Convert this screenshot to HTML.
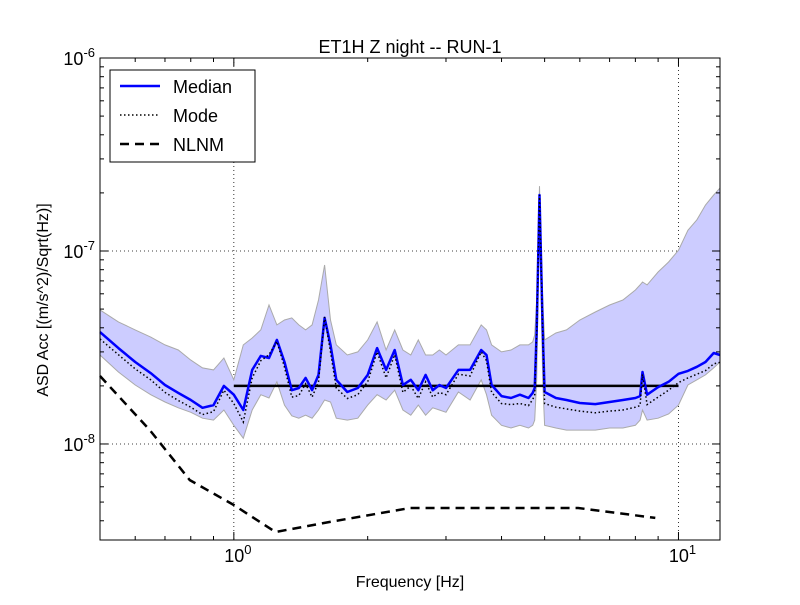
<!DOCTYPE html>
<html><head><meta charset="utf-8"><style>
body{margin:0;background:#fff;}
svg{font-family:"Liberation Sans","DejaVu Sans",sans-serif;}
</style></head><body>
<svg id="chart" width="800" height="600" xmlns="http://www.w3.org/2000/svg"></svg>
<script>
const freqs=[0.5,0.55,0.6,0.65,0.7,0.75,0.8,0.85,0.9,0.95,
1.0,1.05,1.1,1.15,1.2,1.25,1.3,1.35,1.4,1.45,1.5,1.55,1.6,1.65,1.7,
1.8,1.9,2.0,2.1,2.2,2.3,2.4,2.5,2.6,2.7,2.8,2.9,3.0,
3.2,3.4,3.6,3.7,3.8,4.0,4.2,4.4,4.6,4.7,4.75,4.8,4.87,4.95,5.0,
5.3,5.6,6.0,6.5,7.0,7.5,8.0,8.2,8.3,8.5,9.0,9.5,10,10.5,11,11.5,12,12.4];
// values in units of 1e-8 m/s^2/sqrt(Hz)
const median=[3.80,3.14,2.66,2.33,2.02,1.84,1.69,1.54,1.59,2.0,
1.80,1.50,2.42,2.86,2.79,3.46,2.66,1.90,1.95,2.20,1.90,2.28,4.50,3.26,2.15,
1.86,1.95,2.28,3.14,2.42,3.07,2.02,2.15,1.90,2.28,1.90,2.02,1.95,
2.42,2.42,3.07,2.89,2.02,1.77,1.73,1.80,1.73,1.84,1.95,3.90,19.5,3.90,1.86,
1.73,1.69,1.63,1.61,1.65,1.69,1.73,1.77,2.36,1.80,1.97,2.10,2.31,2.39,2.51,2.66,2.96,2.89];
const mode=[3.5,2.9,2.45,2.15,1.85,1.68,1.55,1.42,1.47,1.9,
1.62,1.30,2.2,2.7,2.9,3.4,2.5,1.75,1.78,2.05,1.75,2.1,4.55,3.0,1.95,
1.72,1.8,2.1,3.0,2.2,2.9,1.85,2.0,1.72,2.1,1.75,1.85,1.8,
2.3,2.25,3.0,2.7,1.85,1.62,1.6,1.62,1.58,1.7,1.8,3.8,19.5,3.8,1.62,
1.55,1.52,1.48,1.45,1.48,1.5,1.55,1.58,2.3,1.6,1.75,1.9,2.08,2.2,2.3,2.4,2.6,2.65];
const upper=[4.95,4.29,3.90,3.58,3.26,3.07,2.72,2.48,2.42,2.79,
2.15,3.26,3.54,3.90,5.25,4.14,4.39,4.50,4.14,3.90,4.14,5.57,8.46,4.39,3.26,
2.89,3.0,3.46,4.29,3.07,3.90,3.07,2.89,3.46,2.89,2.89,3.07,2.89,
3.26,3.26,4.14,3.90,3.26,3.0,3.07,3.26,3.26,3.38,3.67,5.57,21.7,5.57,3.46,
3.76,3.90,4.39,4.83,5.25,5.57,6.28,6.67,6.91,6.67,7.78,8.77,10.1,12.8,14.5,17.3,19.5,21.2];
const lower=[2.89,2.36,2.02,1.80,1.65,1.54,1.46,1.36,1.33,1.50,
1.25,1.07,1.50,1.80,1.73,2.10,1.59,1.40,1.36,1.41,1.36,1.50,1.69,1.65,1.36,
1.33,1.36,1.59,1.80,1.69,1.90,1.50,1.41,1.59,1.41,1.54,1.50,1.46,
1.86,1.69,2.15,1.80,1.41,1.25,1.21,1.25,1.21,1.25,1.33,2.15,18.4,2.15,1.25,
1.21,1.18,1.18,1.18,1.21,1.21,1.25,1.33,1.50,1.33,1.36,1.43,1.59,2.02,2.15,2.28,2.48,2.66];
const nlnmFreqs=[0.5,0.647,0.796,1.0,1.24,1.64,2.49,5.95,8.87];
const nlnmVals=[2.25,1.18,0.65,0.483,0.35,0.394,0.466,0.466,0.414];
const refFreqs=[1.0,10.0];
const refVals=[2.0,2.0];
const xTicks=[1,10];
const yTicks=[1,10,100];
const yTickLabels=["-8","-7","-6"];

const L=100,R=720,T=58,B=540;
const xmin=0.5,xmax=12.4,ymin=0.318,ymax=100;
const X=f=>L+(R-L)*(Math.log10(f)-Math.log10(xmin))/(Math.log10(xmax)-Math.log10(xmin));
const Y=v=>B-(B-T)*(Math.log10(v)-Math.log10(ymin))/(Math.log10(ymax)-Math.log10(ymin));
const NS="http://www.w3.org/2000/svg";
const svg=document.getElementById('chart');
function mk(tag,attrs,parent){const e=document.createElementNS(NS,tag);for(const k in attrs)e.setAttribute(k,attrs[k]);(parent||svg).appendChild(e);return e;}
function pts(fs,vs){return fs.map((f,i)=>X(f).toFixed(1)+','+Y(vs[i]).toFixed(1)).join(' ');}

xTicks.forEach(t=>{const g=mk('line',{x1:X(t),x2:X(t),y1:T,y2:B,stroke:'#000','stroke-width':0.8,'stroke-dasharray':'1,3'});

});
yTicks.forEach(t=>{const g=mk('line',{x1:L,x2:R,y1:Y(t),y2:Y(t),stroke:'#000','stroke-width':0.8,'stroke-dasharray':'1,3'});

});

const bandPts=pts(freqs,upper)+' '+pts(freqs.slice().reverse(),lower.slice().reverse());
const band=mk('polygon',{points:bandPts,fill:'#ccccff',stroke:'#aaaaaa','stroke-width':1});



const ref=mk('polyline',{points:pts(refFreqs,refVals),fill:'none',stroke:'#000','stroke-width':2.5});



const med=mk('polyline',{points:pts(freqs,median),fill:'none',stroke:'#0000ff','stroke-width':2.5,'stroke-linejoin':'round'});



const mo=mk('polyline',{points:pts(freqs,mode),fill:'none',stroke:'#000','stroke-width':1.5,'stroke-dasharray':'1.5,2.5'});



const nl=mk('polyline',{points:pts(nlnmFreqs,nlnmVals),fill:'none',stroke:'#000','stroke-width':2.5,'stroke-dasharray':'9,6'});



const fr=mk('rect',{x:L,y:T,width:R-L,height:B-T,fill:'none',stroke:'#000','stroke-width':1});



for(let d=-1;d<=1;d++)for(let m=1;m<10;m++){const f=m*Math.pow(10,d);if(f<xmin||f>xmax)continue;const len=m===1?8:4;const x=X(f);
mk('line',{x1:x,x2:x,y1:B,y2:B-len,stroke:'#000'});mk('line',{x1:x,x2:x,y1:T,y2:T+len,stroke:'#000'});}
for(let d=-1;d<=2;d++)for(let m=1;m<10;m++){const v=m*Math.pow(10,d);if(v<ymin||v>ymax)continue;const len=m===1?8:4;const y=Y(v);
mk('line',{x1:L,x2:L+len,y1:y,y2:y,stroke:'#000'});mk('line',{x1:R,x2:R-len,y1:y,y2:y,stroke:'#000'});}

xTicks.forEach((t,i)=>{const tx=mk('text',{x:X(t)+4,y:B+22,'font-size':18,'text-anchor':'middle'});


tx.innerHTML='10<tspan dy="-8" font-size="13">'+(i)+'</tspan>';});
yTicks.forEach((t,i)=>{const tx=mk('text',{x:L-5,y:Y(t)+7,'font-size':18,'text-anchor':'end'});


tx.innerHTML='10<tspan dy="-8" font-size="13">'+yTickLabels[i]+'</tspan>';});
</script>
<svg width="800" height="600" style="position:absolute;left:0;top:0" font-family="Liberation Sans, DejaVu Sans, sans-serif">
<text x="410" y="53" font-size="18" text-anchor="middle">ET1H Z night -- RUN-1</text>
<text x="410" y="587" font-size="16" text-anchor="middle">Frequency [Hz]</text>
<text x="48" y="300" font-size="16" text-anchor="middle" transform="rotate(-90 48 300)">ASD Acc [(m/s^2)/Sqrt(Hz)]</text>
<g>
<rect x="110" y="70" width="145" height="92" fill="#fff" stroke="#000"/>
<line x1="120" y1="86" x2="160" y2="86" stroke="#0000ff" stroke-width="2.5"/>
<text x="173" y="93" font-size="18">Median</text>
<line x1="120" y1="115" x2="160" y2="115" stroke="#000" stroke-width="1.5" stroke-dasharray="1.5,2.5"/>
<text x="173" y="122" font-size="18">Mode</text>
<line x1="120" y1="144" x2="160" y2="144" stroke="#000" stroke-width="2.5" stroke-dasharray="9,6"/>
<text x="173" y="151" font-size="18">NLNM</text>
</g>
</svg>
</body></html>
